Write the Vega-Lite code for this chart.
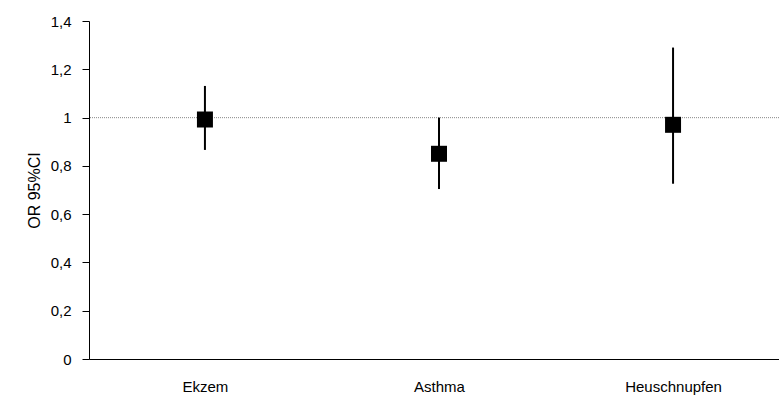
{
  "$schema": "https://vega.github.io/schema/vega-lite/v6.json",
  "autosize": "none",
  "width": 690,
  "height": 338,
  "padding": {"left": 89, "top": 21, "right": 0, "bottom": 40},
  "background": "white",
  "config": {
    "view": {"stroke": null},
    "font": "Liberation Sans",
    "axis": {"labelFont": "Liberation Sans", "titleFont": "Liberation Sans", "labelColor": "black", "titleColor": "black", "domainColor": "black", "tickColor": "black", "grid": false}
  },
  "data": {
    "values": [
      {"cat": "Ekzem", "or": 0.992, "lo": 0.866, "hi": 1.131},
      {"cat": "Asthma", "or": 0.85, "lo": 0.704, "hi": 1.0},
      {"cat": "Heuschnupfen", "or": 0.97, "lo": 0.726, "hi": 1.29}
    ]
  },
  "encoding": {
    "x": {
      "field": "cat", "type": "nominal", "sort": null,
      "scale": {"type": "point", "padding": 0.474, "align": 0.5225},
      "axis": {"title": null, "labelAngle": 0, "ticks": false, "labelFontSize": 15, "labelPadding": 20, "domainWidth": 1}
    }
  },
  "layer": [
    {
      "mark": {"type": "rule", "color": "#999999", "strokeWidth": 1, "strokeDash": [1, 1]},
      "encoding": {"x": null, "y": {"datum": 1, "type": "quantitative"}}
    },
    {
      "mark": {"type": "rule", "color": "black", "strokeWidth": 2},
      "encoding": {
        "y": {
          "field": "lo", "type": "quantitative",
          "scale": {"domain": [0, 1.4], "nice": false},
          "axis": {
            "title": "OR 95%CI", "titleFontSize": 16, "titleFontWeight": "normal", "titlePadding": 8,
            "values": [0, 0.2, 0.4, 0.6, 0.8, 1, 1.2, 1.4],
            "labelExpr": "replace(format(datum.value, '.1~f'), '.', ',')",
            "labelFontSize": 15, "tickSize": 7, "labelPadding": 11
          }
        },
        "y2": {"field": "hi"}
      }
    },
    {
      "mark": {"type": "point", "shape": "square", "filled": true, "color": "black", "size": 256, "opacity": 1},
      "encoding": {"y": {"field": "or", "type": "quantitative"}}
    }
  ]
}
